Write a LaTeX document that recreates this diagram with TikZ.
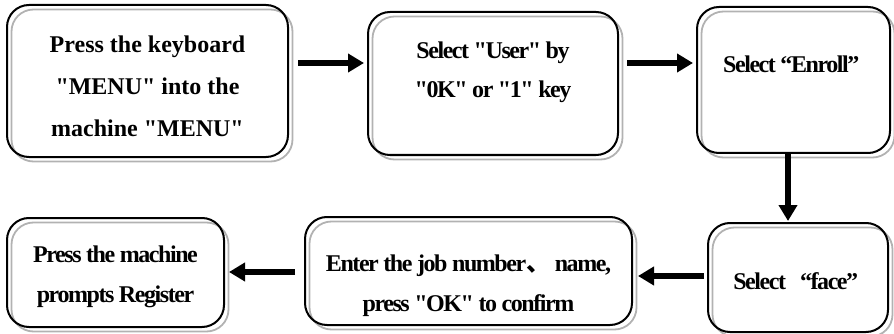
\documentclass[tikz,border=0pt]{standalone}
\usepackage{fontspec}
\setmainfont{Liberation Serif}
\newfontfamily\wideserif{Liberation Serif}[Ligatures=TeXOff]
\newfontfamily\narrowserif{Liberation Serif}[Ligatures=TeXOff,LetterSpace=-6]
\newfontfamily\cjk{Noto Sans CJK SC}
\usetikzlibrary{arrows.meta,shadows}

\begin{document}
\begin{tikzpicture}[x=1pt,y=-1pt,
    card/.style={draw,line width=2pt,rounded corners=22pt,inner sep=0pt,
      general shadow={draw=black!30,line width=1.8pt,shadow xshift=4.5pt,shadow yshift=-4.5pt}},
    caption/.style={inner sep=0pt,align=center,anchor=north,
      font=\narrowserif\bfseries\fontsize{24}{40}\selectfont},
    flow/.style={line width=5.5pt,-{Triangle[length=16pt,width=18pt]}}
    ]

    \useasboundingbox (0,0) rectangle (894,334);

    % top row:
    \node (menu) at (147.5,81) [card,minimum width=281pt,minimum height=152pt] {};
    \node (user) at (493,83.5) [card,minimum width=250pt,minimum height=143pt] {};
    \node (enroll) at (793.5,80) [card,minimum width=193pt,minimum height=146pt] {};

    % bottom row:
    \node (face) at (798,277.5) [card,minimum width=180pt,minimum height=109pt] {};
    \node (jobno) at (468.5,271) [card,minimum width=327pt,minimum height=108pt] {};
    \node (register) at (115.5,272.5) [card,minimum width=217pt,minimum height=109pt] {};

    % texts:
    \node (menutext) at ([yshift=-31.5pt]menu.north) [caption,font=\wideserif\bfseries\fontsize{24}{42}\selectfont] {
      Press the keyboard\\"MENU" into the\\machine "MENU"
    };
    \node (usertext) at ([yshift=-30.5pt]user.north) [caption,font=\narrowserif\bfseries\fontsize{24}{39}\selectfont] {
      Select "User" by\\"0K" or "1" key
    };
    \node (enrolltext) at ([yshift=-49.5pt]enroll.north) [caption] {
      Select “Enroll”
    };
    \node (facetext) at ([yshift=-50.5pt]face.north) [caption] {
      Select\hspace{14pt}“face”
    };
    \node (jobnotext) at ([yshift=-38.5pt]jobno.north) [caption] {
      Enter the job number{\cjk\bfseries 、}\ name,\\press "OK" to confirm
    };
    \node (registertext) at ([yshift=-28.5pt]register.north) [caption] {
      Press the machine\\prompts Register
    };

    % connections:
    \draw [flow] ([xshift=9pt,yshift=18pt]menu.east) -- ([xshift=-3pt,yshift=20.5pt]user.west);
    \draw [flow] ([xshift=8pt,yshift=20.5pt]user.east) -- ([xshift=-3pt,yshift=17pt]enroll.west);
    \draw [flow] ([xshift=-5.5pt]enroll.south) -- ([xshift=-10pt,yshift=1pt]face.north);
    \draw [flow] ([xshift=-3pt,yshift=1.5pt]face.west) -- ([xshift=5pt,yshift=-5pt]jobno.east);
    \draw [flow] ([xshift=-9pt,yshift=-1pt]jobno.west) -- ([xshift=4pt,yshift=0.5pt]register.east);

  \end{tikzpicture}
\end{document}
